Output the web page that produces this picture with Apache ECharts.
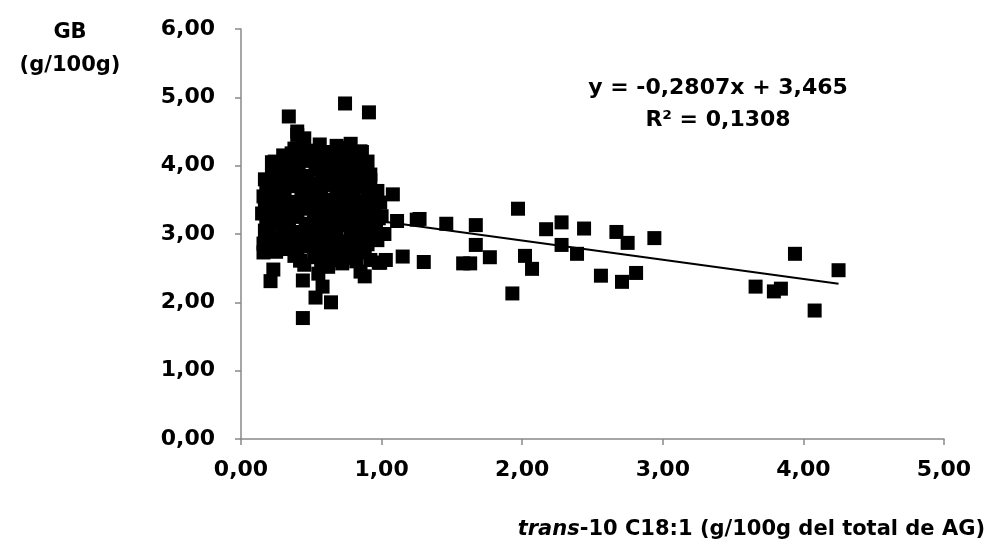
<!DOCTYPE html>
<html>
<head>
<meta charset="utf-8">
<script src="https://cdn.jsdelivr.net/npm/echarts@6/dist/echarts.min.js"></script>
<style>html,body{margin:0;padding:0;background:#fff}#c{width:994px;height:558px}</style>
</head>
<body>
<div id="c"></div>
<script>
const xTicks = ["0,00","1,00","2,00","3,00","4,00","5,00"];
const yTicks = ["0,00","1,00","2,00","3,00","4,00","5,00","6,00"];

// Dense cluster (trans-10 < ~1.1)
const clusterX = [0.40,0.45, 0.38,0.50,0.62,0.72,0.85, 0.30,0.44,0.56,0.66,0.78,
  0.22,0.35,0.48,0.60,0.70,0.82,0.90, 0.28,0.40,0.53,0.64,0.75,0.86,
  0.17,0.33,0.45,0.58,0.69,0.80,0.92, 0.22,0.38,0.50,0.62,0.73,0.85,0.97,
  0.16,0.30,0.43,0.55,0.67,0.78,0.90, 0.20,0.35,0.48,0.60,0.72,0.84,0.95,
  0.15,0.27,0.40,0.52,0.65,0.77,0.88,1.00, 0.22,0.34,0.46,0.58,0.70,0.82,0.93,
  0.17,0.30,0.42,0.55,0.66,0.78,0.90,1.02, 0.24,0.37,0.50,0.61,0.74,0.86,0.97,
  0.20,0.32,0.45,0.57,0.70,0.82, 0.38,0.52,0.64,0.76,0.92, 0.45,0.62,0.72,0.98, 0.55,0.85];
const clusterY = [4.45,4.40, 4.25,4.22,4.20,4.26,4.21, 4.15,4.12,4.16,4.10,4.14,
  4.05,4.02,4.07,3.98,4.04,4.00,4.06, 3.92,3.90,3.94,3.88,3.93,3.86,
  3.80,3.82,3.78,3.84,3.76,3.81,3.79, 3.68,3.70,3.65,3.72,3.66,3.69,3.63,
  3.55,3.58,3.52,3.56,3.50,3.57,3.53, 3.42,3.45,3.40,3.44,3.38,3.43,3.41,
  3.30,3.32,3.28,3.33,3.27,3.31,3.29,3.26, 3.18,3.20,3.15,3.19,3.16,3.21,3.17,
  3.05,3.08,3.03,3.07,3.02,3.06,3.04,3.00, 2.92,2.95,2.90,2.94,2.89,2.93,2.91,
  2.80,2.78,2.82,2.77,2.81,2.79, 2.68,2.66,2.70,2.65,2.62, 2.55,2.52,2.57,2.58, 2.42,2.45];

// More cluster points, between the rows above
const fillX = [0.44,0.56,0.68,0.78, 0.36,0.50,0.61,0.72,0.84,
  0.28,0.41,0.54,0.65,0.76,0.87, 0.22,0.34,0.47,0.58,0.70,0.81,0.92,
  0.18,0.28,0.42,0.55,0.65,0.78,0.90, 0.19,0.31,0.45,0.57,0.68,0.80,0.93,
  0.17,0.26,0.38,0.51,0.63,0.76,0.88,0.99, 0.21,0.32,0.45,0.57,0.69,0.80,0.93,
  0.18,0.28,0.40,0.52,0.64,0.76,0.87,0.98, 0.20,0.34,0.47,0.60,0.72,0.84,0.96,
  0.18,0.30,0.43,0.56,0.68,0.80,0.92, 0.16,0.28,0.41,0.52,0.64,0.76,0.90,
  0.25,0.40,0.53,0.66,0.78,0.88, 0.42,0.57,0.68,0.82];
const fillY = [4.30,4.31,4.29,4.32, 4.18,4.19,4.17,4.18,4.16,
  4.00,4.01,3.99,4.02,3.98,4.00, 3.86,3.87,3.85,3.86,3.88,3.85,3.87,
  3.74,3.73,3.75,3.74,3.72,3.74,3.73, 3.61,3.62,3.60,3.61,3.63,3.60,3.61,
  3.48,3.49,3.47,3.48,3.50,3.47,3.48,3.46, 3.36,3.35,3.37,3.36,3.34,3.36,3.35,
  3.24,3.23,3.25,3.24,3.22,3.24,3.25,3.23, 3.11,3.12,3.10,3.11,3.13,3.10,3.11,
  2.98,2.99,2.97,2.98,3.00,2.97,2.98, 2.86,2.87,2.85,2.86,2.84,2.86,2.85,
  2.74,2.73,2.75,2.74,2.72,2.73, 2.61,2.60,2.62,2.60];

// Scattered points around the cluster edge and beyond
const spreadX = [0.74,0.91,0.34,0.40,0.86,0.24,1.08,1.11,1.25,1.15,
  0.16,0.23,0.21,0.44,0.58,0.53,0.64,0.44,0.88,0.99,1.03,
  1.27,1.46,1.67,1.97,2.17,2.28,2.44,2.67,2.75,2.94,
  1.30,1.58,1.63,1.67,1.77,2.02,2.07,2.28,2.39,2.56,2.71,2.81,1.93,
  3.66,3.79,3.84,3.94,4.08,4.25];
const spreadY = [4.91,4.78,4.72,4.50,4.20,4.06,3.58,3.19,3.21,2.67,
  2.73,2.48,2.31,2.32,2.23,2.07,2.00,1.77,2.38,2.58,2.62,
  3.22,3.15,3.13,3.37,3.07,3.17,3.08,3.03,2.87,2.94,
  2.59,2.57,2.57,2.84,2.66,2.68,2.49,2.84,2.71,2.39,2.30,2.43,2.13,
  2.23,2.16,2.20,2.71,1.88,2.47];

const slope = -0.2807, intercept = 3.465;
const trendX = [0.15, 4.25];

const points = [];
clusterX.forEach((x,i)=>points.push([x, clusterY[i]]));
fillX.forEach((x,i)=>points.push([x, fillY[i]]));
spreadX.forEach((x,i)=>points.push([x, spreadY[i]]));
const trend = trendX.map(x=>[x, slope*x+intercept]);

const FONT = 'DejaVu Sans';
const chart = echarts.init(document.getElementById('c'), null, {renderer:'canvas'});
chart.setOption({
  animation:false,
  backgroundColor:'#fff',
  grid:{left:241, right:50, top:29, bottom:119},
  xAxis:{
    type:'value', min:0, max:5, interval:1,
    axisLine:{show:true, lineStyle:{color:'#898989', width:1.5}},
    axisTick:{show:true, length:6, lineStyle:{color:'#898989', width:1.5}},
    splitLine:{show:false},
    axisLabel:{margin:20, color:'#000', fontFamily:FONT, fontWeight:'bold', fontSize:22,
      formatter:(v)=>xTicks[Math.round(v)]}
  },
  yAxis:{
    type:'value', min:0, max:6, interval:1,
    axisLine:{show:true, lineStyle:{color:'#898989', width:1.5}},
    axisTick:{show:true, length:6, lineStyle:{color:'#898989', width:1.5}},
    splitLine:{show:false},
    axisLabel:{margin:26, color:'#000', fontFamily:FONT, fontWeight:'bold', fontSize:22,
      formatter:(v)=>yTicks[Math.round(v)]}
  },
  series:[
    {type:'scatter', data:points, symbol:'rect', symbolSize:14, large:false,
      itemStyle:{color:'#000', opacity:1}, z:2},
    {type:'line', data:trend, symbol:'none', lineStyle:{color:'#000', width:2}, z:3}
  ],
  graphic:[
    {type:'text', style:{text:'GB', x:70, y:33, textAlign:'center', textVerticalAlign:'middle',
      font:'bold 21px "DejaVu Sans"', fill:'#000'}},
    {type:'text', style:{text:'(g/100g)', x:70, y:66, textAlign:'center', textVerticalAlign:'middle',
      font:'bold 21px "DejaVu Sans"', fill:'#000'}},
    {type:'text', style:{text:'y = -0,2807x + 3,465', x:718, y:88, textAlign:'center', textVerticalAlign:'middle',
      font:'bold 22px "DejaVu Sans"', fill:'#000'}},
    {type:'text', style:{text:'R² = 0,1308', x:718, y:120, textAlign:'center', textVerticalAlign:'middle',
      font:'bold 22px "DejaVu Sans"', fill:'#000'}},
    {type:'text', style:{
      text:'{i|trans}{b|-10 C18:1 (g/100g del total de AG)}', x:985, y:530,
      textAlign:'right', textVerticalAlign:'middle',
      rich:{
        i:{fontFamily:FONT, fontStyle:'italic', fontWeight:'bold', fontSize:21, fill:'#000', color:'#000'},
        b:{fontFamily:FONT, fontWeight:'bold', fontSize:21, fill:'#000', color:'#000'}
      }}}
  ]
});
</script>
</body>
</html>
